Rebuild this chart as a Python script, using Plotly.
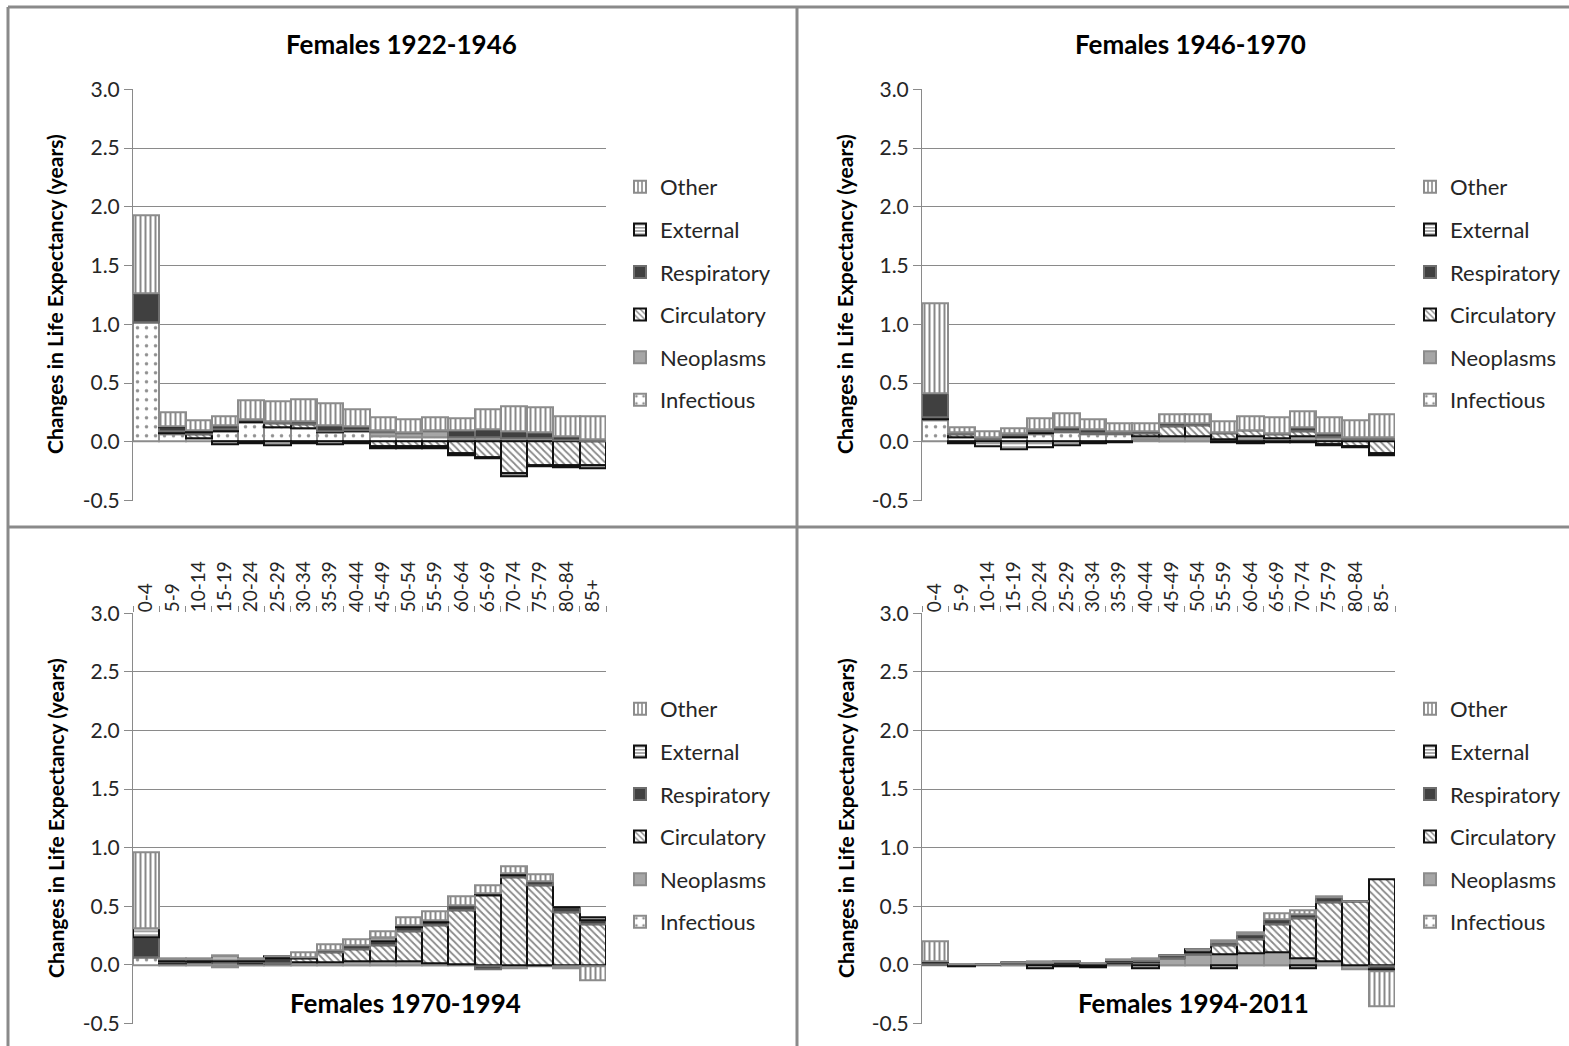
import plotly.graph_objects as go

W, H = 1569, 1046

age_groups = ["0-4", "5-9", "10-14", "15-19", "20-24", "25-29", "30-34", "35-39", "40-44",
              "45-49", "50-54", "55-59", "60-64", "65-69", "70-74", "75-79", "80-84", "85+"]
age_labels_c = age_groups
age_labels_d = age_groups[:-1] + ["85-"]

causes = ["Infectious", "Neoplasms", "Circulatory", "Respiratory", "External", "Other"]
legend_ranks = [6, 5, 4, 3, 2, 1]

# Females 1922-1946
a_infectious = [1.02, 0.065, 0.03, 0.09, 0.165, 0.12, 0.115, 0.08, 0.09, 0.05, 0.04, 0.04, 0.01, 0.01, 0.0, 0.0, 0.0, 0.0]
a_neoplasms = [0.0, 0.005, 0.0, 0.0, 0.0, 0.0, 0.0, 0.0, 0.0, 0.03, 0.03, 0.05, 0.03, 0.03, 0.03, 0.03, 0.015, 0.005]
a_circulatory = [0.0, 0.02, 0.03, 0.02, 0.015, 0.035, 0.03, 0.01, 0.01, -0.04, -0.04, -0.04, -0.1, -0.13, -0.27, -0.2, -0.2, -0.2]
a_respiratory = [0.24, 0.03, 0.02, 0.03, 0.01, 0.02, 0.03, 0.05, 0.035, 0.02, 0.01, 0.01, 0.06, 0.07, 0.06, 0.05, 0.035, 0.015]
a_external = [0.0, 0.01, 0.02, -0.02, -0.01, -0.03, -0.01, -0.02, -0.015, -0.015, -0.015, -0.015, -0.015, -0.015, -0.02, -0.01, -0.015, -0.025]
a_other = [0.67, 0.12, 0.08, 0.08, 0.165, 0.17, 0.19, 0.19, 0.14, 0.11, 0.11, 0.105, 0.1, 0.17, 0.21, 0.21, 0.17, 0.2]

# Females 1946-1970
b_infectious = [0.185, 0.04, 0.01, 0.04, 0.065, 0.08, 0.065, 0.06, 0.02, 0.0, 0.0, 0.0, 0.01, 0.0, 0.01, 0.0, 0.0, 0.0]
b_neoplasms = [0.01, 0.0, 0.02, 0.0, 0.01, 0.01, 0.01, 0.01, 0.03, 0.05, 0.05, 0.02, 0.04, 0.03, 0.04, 0.04, 0.02, 0.02]
b_circulatory = [0.01, 0.02, 0.0, 0.015, 0.01, 0.0, 0.0, 0.0, 0.02, 0.08, 0.09, 0.05, 0.045, 0.03, 0.04, -0.02, -0.04, -0.1]
b_respiratory = [0.205, 0.02, 0.01, 0.02, 0.02, 0.03, 0.03, 0.02, 0.015, 0.03, 0.02, 0.01, 0.0, 0.015, 0.03, 0.035, 0.015, 0.02]
b_external = [0.0, -0.015, -0.035, -0.06, -0.045, -0.03, -0.01, -0.005, 0.0, 0.0, 0.0, -0.005, -0.01, -0.005, -0.005, -0.01, -0.01, -0.015]
b_other = [0.765, 0.04, 0.045, 0.04, 0.095, 0.12, 0.085, 0.065, 0.07, 0.07, 0.07, 0.09, 0.125, 0.135, 0.14, 0.13, 0.15, 0.19]

# Females 1970-1994
c_infectious = [0.065, 0.0, 0.0, -0.02, 0.0, 0.0, 0.0, 0.0, 0.0, 0.0, 0.0, 0.0, 0.0, 0.0, 0.0, 0.0, 0.0, 0.0]
c_neoplasms = [0.0, 0.015, 0.02, 0.02, 0.015, 0.015, 0.02, 0.02, 0.03, 0.03, 0.035, 0.01, 0.005, -0.01, -0.03, -0.01, -0.01, -0.01]
c_circulatory = [0.0, 0.01, 0.01, 0.005, 0.01, 0.0, 0.04, 0.085, 0.1, 0.14, 0.25, 0.33, 0.465, 0.59, 0.745, 0.68, 0.45, 0.35]
c_respiratory = [0.17, 0.01, 0.005, 0.01, 0.01, 0.04, 0.0, 0.02, 0.04, 0.035, 0.04, 0.02, 0.04, -0.03, 0.02, 0.035, 0.04, 0.03]
c_external = [0.08, 0.015, 0.01, 0.04, 0.01, 0.02, 0.005, 0.0, 0.0, 0.03, 0.01, 0.02, 0.0, 0.02, 0.015, 0.0, 0.005, 0.03]
c_other = [0.65, 0.01, 0.01, 0.01, 0.01, 0.0, 0.04, 0.05, 0.05, 0.055, 0.07, 0.08, 0.075, 0.065, 0.06, 0.055, -0.02, -0.12]

# Females 1994-2011
d_infectious = [0.005, 0.0, 0.0, 0.0, 0.0, 0.0, 0.0, 0.0, 0.0, 0.0, 0.0, 0.0, 0.0, 0.0, 0.0, 0.0, 0.0, 0.0]
d_neoplasms = [0.0, 0.0, 0.005, 0.01, 0.01, 0.015, 0.005, 0.015, 0.025, 0.06, 0.09, 0.09, 0.1, 0.105, 0.06, 0.035, -0.04, -0.01]
d_circulatory = [0.0, -0.005, 0.0, 0.005, 0.005, 0.005, 0.0, 0.01, 0.01, 0.0, 0.0, 0.08, 0.12, 0.245, 0.335, 0.5, 0.54, 0.73]
d_respiratory = [0.02, 0.005, 0.0, 0.005, 0.01, 0.01, 0.005, 0.01, 0.015, 0.02, 0.02, 0.02, 0.04, 0.035, 0.04, 0.045, 0.005, -0.03]
d_external = [0.01, -0.005, 0.0, 0.005, -0.03, -0.01, -0.02, 0.005, -0.025, 0.0, 0.02, -0.025, 0.0, 0.0, -0.025, 0.0, 0.0, -0.015]
d_other = [0.165, 0.0, 0.0, 0.0, 0.005, 0.0, 0.0, 0.005, 0.005, 0.0, 0.0, 0.02, 0.02, 0.055, 0.03, 0.005, 0.0, -0.30]

panel_titles = ["Females 1922-1946", "Females 1946-1970", "Females 1970-1994", "Females 1994-2011"]
y_title = "Changes in Life Expectancy (years)"
y_ticks = [-0.5, 0.0, 0.5, 1.0, 1.5, 2.0, 2.5, 3.0]
y_tick_labels = ["-0.5", "0.0", "0.5", "1.0", "1.5", "2.0", "2.5", "3.0"]

panels = [
    [a_infectious, a_neoplasms, a_circulatory, a_respiratory, a_external, a_other],
    [b_infectious, b_neoplasms, b_circulatory, b_respiratory, b_external, b_other],
    [c_infectious, c_neoplasms, c_circulatory, c_respiratory, c_external, c_other],
    [d_infectious, d_neoplasms, d_circulatory, d_respiratory, d_external, d_other],
]

FONT = "Lato"
GRID = "#8a8a8a"
TXT = "#262626"

styles = {
    "Infectious": dict(color="white", pattern=dict(shape=".", fgcolor="#222222", bgcolor="white", size=9, solidity=0.12),
                       line=dict(color="#8c8c8c", width=2)),
    "Neoplasms": dict(color="#a6a6a6", line=dict(color="#8c8c8c", width=2)),
    "Circulatory": dict(color="white", pattern=dict(shape="\\", fgcolor="#111111", bgcolor="white", size=5, solidity=0.35),
                        line=dict(color="#111111", width=2)),
    "Respiratory": dict(color="#404040", line=dict(color="#6e6e6e", width=2)),
    "External": dict(color="white", pattern=dict(shape="-", fgcolor="#111111", bgcolor="white", size=4, solidity=0.4),
                     line=dict(color="#111111", width=2)),
    "Other": dict(color="white", pattern=dict(shape="|", fgcolor="#111111", bgcolor="white", size=5, solidity=0.4),
                  line=dict(color="#8c8c8c", width=2)),
}

def px_x(p):
    return p / W

def px_y(p):
    return 1 - p / H

# plot areas in pixels: (x0, x1, ytop, ybottom)
areas = [(133, 606, 89.3, 500.5), (922, 1395, 89.3, 500.5),
         (133, 606, 613.3, 1023.5), (922, 1395, 613.3, 1023.5)]
legend_pos = [(620, 166), (1410, 166), (620, 688), (1410, 688)]
cat_labels = [age_groups, age_groups, age_labels_c, age_labels_d]

fig = go.Figure()
layout = {}
for i, series in enumerate(panels):
    sfx = "" if i == 0 else str(i + 1)
    leg = "legend" if i == 0 else "legend" + str(i + 1)
    for name, rank, vals in zip(causes, legend_ranks, series):
        st = styles[name]
        fig.add_trace(go.Bar(
            x=cat_labels[i], y=vals, name=name,
            xaxis="x" + sfx, yaxis="y" + sfx,
            marker=st, legend=leg, legendgroup=name + str(i), legendrank=rank,
            showlegend=True,
        ))
    x0, x1, yt, yb = areas[i]
    bottom_row = i >= 2
    layout["xaxis" + sfx] = dict(
        domain=[px_x(x0), px_x(x1)], anchor="y" + sfx, type="category",
        range=[-0.5, 17.5], showgrid=False, zeroline=False,
        showline=False, automargin=False,
        side="top" if bottom_row else "bottom",
        showticklabels=bottom_row,
        ticks="outside" if bottom_row else "", tickson="boundaries",
        ticklen=6, tickcolor=GRID, tickangle=-90,
        tickfont=dict(family=FONT, size=19, color=TXT),
        categoryorder="array", categoryarray=cat_labels[i],
    )
    layout["yaxis" + sfx] = dict(
        domain=[px_y(yb), px_y(yt)], anchor="x" + sfx, automargin=False,
        range=[-0.5, 3.0], tickvals=y_ticks, ticktext=y_tick_labels,
        showgrid=True, gridcolor=GRID, gridwidth=1, zeroline=False,
        showline=True, linecolor=GRID, linewidth=1,
        ticks="outside", ticklen=8, tickcolor=GRID,
        tickfont=dict(family=FONT, size=21, color=TXT),
    )
    lx, ly = legend_pos[i]
    layout[leg] = dict(
        x=px_x(lx), y=px_y(ly), xanchor="left", yanchor="top",
        xref="paper", yref="paper",
        traceorder="grouped", tracegroupgap=11, itemwidth=30,
        font=dict(family=FONT, size=22, color=TXT), bgcolor="rgba(0,0,0,0)",
    )

annotations = []
title_pos = [(401, 44), (1190, 44), (405, 1003), (1193, 1003)]
for t, (tx, ty) in zip(panel_titles, title_pos):
    annotations.append(dict(text="<b>" + t + "</b>", x=px_x(tx), y=px_y(ty), xref="paper", yref="paper",
                            showarrow=False, xanchor="center", yanchor="middle",
                            font=dict(family=FONT, size=26, color="black")))
for yc, xc in [(294, 55), (294, 845), (818, 55), (818, 845)]:
    annotations.append(dict(text="<b>" + y_title + "</b>", x=px_x(xc), y=px_y(yc), xref="paper", yref="paper",
                            showarrow=False, textangle=-90, xanchor="center", yanchor="middle",
                            font=dict(family=FONT, size=21, color="black")))

shapes = []
border = dict(color="#8a8a8a", width=3)
shapes.append(dict(type="line", xref="paper", yref="paper", x0=px_x(8), x1=px_x(8), y0=0, y1=px_y(7), line=border))
shapes.append(dict(type="line", xref="paper", yref="paper", x0=px_x(8), x1=1, y0=px_y(7), y1=px_y(7), line=border))
shapes.append(dict(type="line", xref="paper", yref="paper", x0=px_x(797), x1=px_x(797), y0=0, y1=px_y(7), line=border))
shapes.append(dict(type="line", xref="paper", yref="paper", x0=px_x(8), x1=1, y0=px_y(527), y1=px_y(527), line=border))

fig.update_layout(
    width=W, height=H, margin=dict(l=0, r=0, t=0, b=0, autoexpand=False),
    paper_bgcolor="white", plot_bgcolor="white",
    barmode="relative", bargap=0,
    annotations=annotations, shapes=shapes,
    font=dict(family=FONT, color=TXT),
    **layout,
)

fig.write_html("out.html")
